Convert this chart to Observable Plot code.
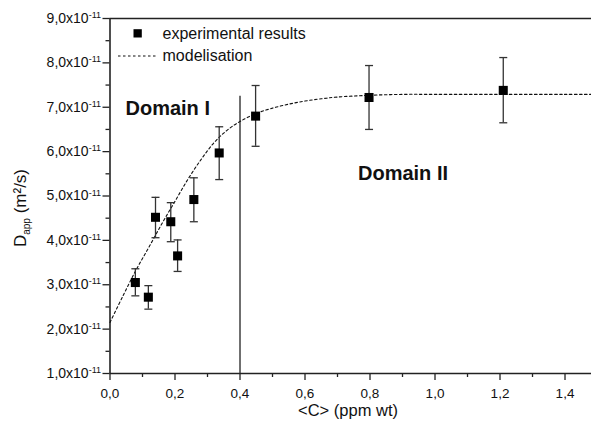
<!DOCTYPE html>
<html><head><meta charset="utf-8">
<script src="https://cdn.jsdelivr.net/npm/d3@7"></script>
<script src="https://cdn.jsdelivr.net/npm/@observablehq/plot@0.6"></script>
<style>body{margin:0;background:#fff}</style>
</head><body><div id="chart"></div>
<script>
// Experimental results
const conc  = [0.078, 0.118, 0.14, 0.187, 0.208, 0.258, 0.336, 0.448, 0.797, 1.21];
const dApp  = [3.05e-11, 2.72e-11, 4.52e-11, 4.42e-11, 3.65e-11, 4.92e-11, 5.97e-11, 6.80e-11, 7.22e-11, 7.38e-11];
const dLow  = [2.75e-11, 2.45e-11, 4.06e-11, 3.97e-11, 3.30e-11, 4.42e-11, 5.37e-11, 6.12e-11, 6.50e-11, 6.65e-11];
const dHigh = [3.36e-11, 2.98e-11, 4.97e-11, 4.85e-11, 4.01e-11, 5.41e-11, 6.56e-11, 7.49e-11, 7.94e-11, 8.12e-11];
// Modelisation curve
const modelC = [0, 0.04, 0.08, 0.12, 0.16, 0.20, 0.24, 0.28, 0.32, 0.36, 0.40, 0.45, 0.50, 0.55, 0.60, 0.65, 0.70, 0.80, 0.90, 1.0, 1.2, 1.4, 1.49];
const modelD = [2.15e-11, 2.75e-11, 3.33e-11, 3.85e-11, 4.38e-11, 4.88e-11, 5.38e-11, 5.82e-11, 6.20e-11, 6.48e-11, 6.68e-11, 6.86e-11, 6.98e-11, 7.07e-11, 7.14e-11, 7.19e-11, 7.23e-11, 7.27e-11, 7.29e-11, 7.29e-11, 7.29e-11, 7.29e-11, 7.29e-11];
// Domain boundary
const boundaryC = [0.4];
const boundaryTop = [7.25e-11];
// Ticks
const xTicks = [0, 0.2, 0.4, 0.6, 0.8, 1.0, 1.2, 1.4];
const xTickLabels = ["0,0", "0,2", "0,4", "0,6", "0,8", "1,0", "1,2", "1,4"];
const xMinor = [0.1, 0.3, 0.5, 0.7, 0.9, 1.1, 1.3];
const yTicks = [1e-11, 2e-11, 3e-11, 4e-11, 5e-11, 6e-11, 7e-11, 8e-11, 9e-11];
const yTickLabels = ["1,0x10", "2,0x10", "3,0x10", "4,0x10", "5,0x10", "6,0x10", "7,0x10", "8,0x10", "9,0x10"];
const yTickExp = "-11";
const yMinor = [1.5e-11, 2.5e-11, 3.5e-11, 4.5e-11, 5.5e-11, 6.5e-11, 7.5e-11, 8.5e-11];

const pts = conc.map((c, i) => ({c, d: dApp[i], lo: dLow[i], hi: dHigh[i]}));
const model = modelC.map((c, i) => ({c, d: modelD[i]}));
const bound = boundaryC.map((c, i) => ({c, top: boundaryTop[i]}));
const cap = {draw(ctx, size) { const r = Math.sqrt(size / Math.PI); ctx.moveTo(-r, 0); ctx.lineTo(r, 0); }};

const FONT = "'Liberation Sans', Arial, sans-serif";
const chart = Plot.plot({
  width: 591, height: 433,
  marginLeft: 109.5, marginRight: 0, marginTop: 18, marginBottom: 60,
  style: {fontFamily: FONT, background: "#fff", color: "#111"},
  x: {domain: [0, 1.4815]},
  y: {domain: [1e-11, 9e-11]},
  marks: [
    Plot.axisX({ticks: xTicks, tickSize: 7, tickPadding: 8, tickFormat: (d, i) => xTickLabels[i], fontSize: 13.5, label: null, stroke: "#222", strokeWidth: 1.3}),
    Plot.axisX({ticks: xMinor, tickSize: 4, tickFormat: () => "", label: null, stroke: "#222", strokeWidth: 1.3}),
    Plot.axisY({ticks: yTicks, tickSize: 7, tickPadding: 2, tickFormat: (d, i) => yTickLabels[i], fontSize: 14, label: null, stroke: "#222", strokeWidth: 1.3}),
    Plot.axisY({ticks: yMinor, tickSize: 4, tickFormat: () => "", label: null, stroke: "#222", strokeWidth: 1.3}),
    Plot.ruleX([0], {stroke: "#222", strokeWidth: 1.6}),
    Plot.ruleY([1e-11, 9e-11], {stroke: "#222", strokeWidth: 1.6}),
    Plot.ruleX(bound, {x: "c", y1: 1e-11, y2: "top", stroke: "#333", strokeWidth: 1.4}),
    Plot.line(model, {x: "c", y: "d", curve: "catmull-rom", stroke: "#111", strokeWidth: 1.1, strokeDasharray: "2.5,2.5"}),
    Plot.ruleX(pts, {x: "c", y1: "lo", y2: "hi", stroke: "#333", strokeWidth: 1.3}),
    Plot.dot(pts, {x: "c", y: "lo", symbol: cap, r: 4, stroke: "#333", strokeWidth: 1.3}),
    Plot.dot(pts, {x: "c", y: "hi", symbol: cap, r: 4, stroke: "#333", strokeWidth: 1.3}),
    Plot.dot(pts, {x: "c", y: "d", symbol: "square", r: 5.1, fill: "#000", stroke: "none"})
  ]
});
document.getElementById("chart").appendChild(chart);

const svg = d3.select(chart);
// superscript exponent on y tick labels
svg.selectAll('g[aria-label="y-axis tick label"] text').each(function () {
  const t = d3.select(this);
  if (t.text() !== "") t.append("tspan").attr("dy", "-0.55em").attr("font-size", "9px").text(yTickExp);
});

function addText(x, y, txt, opts = {}) {
  return svg.append("text").attr("x", x).attr("y", y)
    .attr("text-anchor", opts.anchor || "start")
    .attr("font-size", (opts.size || 16) + "px")
    .attr("font-weight", opts.weight || "normal")
    .attr("font-family", FONT).attr("fill", "#111").text(txt);
}

// Axis titles
const yt = svg.append("text").attr("transform", "translate(26,208) rotate(-90)")
  .attr("text-anchor", "middle").attr("font-size", "17px").attr("font-family", FONT).attr("fill", "#111");
yt.append("tspan").text("D");
yt.append("tspan").attr("font-size", "10px").attr("dy", "0.35em").text("app");
yt.append("tspan").attr("dy", "-0.2em").text(" (m²/s)");

addText(348, 416, "<C> (ppm wt)", {anchor: "middle", size: 16.5});

// Legend
svg.append("rect").attr("x", 133.5).attr("y", 29.2).attr("width", 8.3).attr("height", 8.3).attr("fill", "#000");
addText(162.5, 33.5, "experimental results").attr("dy", "0.35em");
svg.append("line").attr("x1", 118).attr("x2", 157).attr("y1", 56).attr("y2", 56)
  .attr("stroke", "#111").attr("stroke-width", 1.1).attr("stroke-dasharray", "2.5,2.5");
addText(162.5, 55.5, "modelisation").attr("dy", "0.35em");

// Domain annotations
addText(125.5, 115, "Domain I", {size: 20, weight: "bold"});
addText(448, 180, "Domain II", {size: 20, weight: "bold", anchor: "end"});
</script>
</body></html>
